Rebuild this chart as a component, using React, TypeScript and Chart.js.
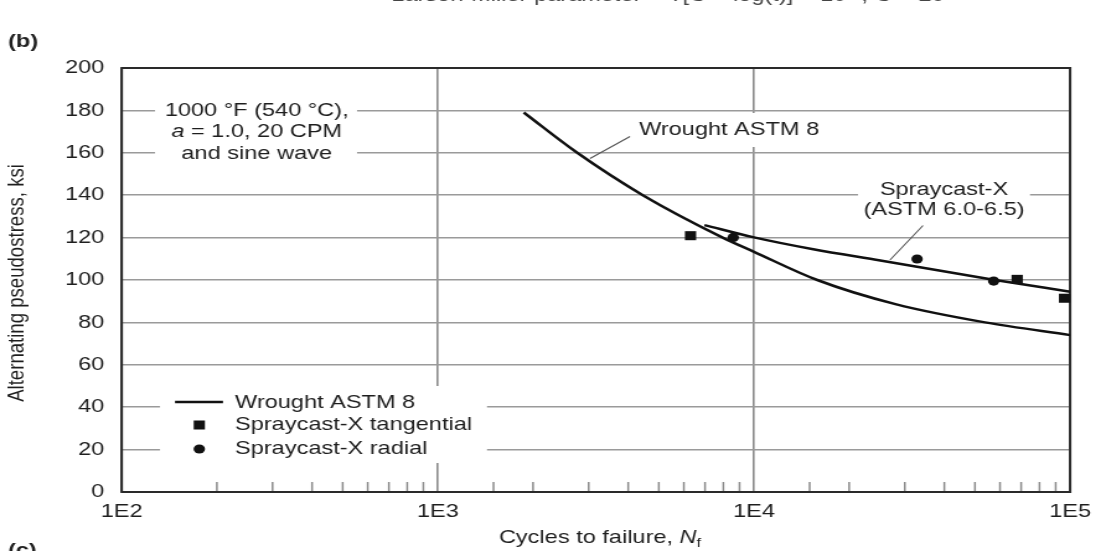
import { useEffect, useRef } from 'react';
import { Chart, registerables } from 'chart.js';

Chart.register(...registerables);

// ---- data ----
const wroughtCycles = [1870, 2760, 4450, 7960, 10000, 15850, 28200, 53800, 100000];
const wroughtStress = [179, 160, 140, 120, 113.3, 100, 88.5, 80, 74];
const sprayCycles = [6970, 10000, 15400, 25100, 57800, 100000];
const sprayStress = [125.9, 120.1, 114.5, 109.2, 100, 94.5];
const tangentialCycles = [6300, 68000, 96000];
const tangentialStress = [120.9, 100.3, 91.4];
const radialCycles = [8600, 32800, 57300];
const radialStress = [120.1, 109.9, 99.5];
const xDecades = [100, 1000, 10000, 100000];
const xTickLabels = ['1E2', '1E3', '1E4', '1E5'];
const yTicks = [0, 20, 40, 60, 80, 100, 120, 140, 160, 180, 200];
const legendLabels = ['Wrought ASTM 8', 'Spraycast-X tangential', 'Spraycast-X radial'];

// ---- layout ----
const PAGE_W = 1101;
const W = 888;
const H = 551;
const K = PAGE_W / W; // horizontal stretch of the reference
const px = (x: number) => x / K;
const FAM = "'Liberation Sans', Arial, Helvetica, sans-serif";
const INK = '#1e1e1e';

const isDecade = (v: number) => xDecades.some((d) => Math.abs(d - v) < 1e-6 * d);

function drawParts(ctx: CanvasRenderingContext2D, parts: [string, string, number?][], cx: number, y: number, align: 'center' | 'left') {
  let total = 0;
  for (const [s, f] of parts) { ctx.font = f; total += ctx.measureText(s).width; }
  let x = align === 'center' ? cx - total / 2 : cx;
  ctx.textAlign = 'left';
  ctx.textBaseline = 'middle';
  for (const [s, f, dy] of parts) {
    ctx.font = f;
    ctx.fillText(s, x, y + (dy || 0));
    x += ctx.measureText(s).width;
  }
}

const decorPlugin = {
  id: 'decor',
  beforeDatasetsDraw(chart: any) {
    const ctx: CanvasRenderingContext2D = chart.ctx;
    const a = chart.chartArea;
    const xs = chart.scales.x;
    ctx.save();
    // minor ticks along the bottom
    ctx.strokeStyle = '#8a8a8a';
    ctx.lineWidth = 1.5;
    for (const t of xs.ticks) {
      if (isDecade(t.value)) continue;
      const x = xs.getPixelForValue(t.value);
      ctx.beginPath();
      ctx.moveTo(x, a.bottom);
      ctx.lineTo(x, a.bottom - 10);
      ctx.stroke();
    }
    // white label backgrounds
    ctx.fillStyle = '#fff';
    ctx.fillRect(px(155), 94, px(357) - px(155), 74);
    ctx.fillRect(px(630), 113, px(828) - px(630), 34);
    ctx.fillRect(px(858), 176, px(1030) - px(858), 46);
    ctx.fillRect(px(160), 386, px(487) - px(160), 77);
    // frame
    ctx.strokeStyle = '#2a2a2a';
    ctx.lineWidth = 2;
    ctx.strokeRect(a.left, a.top, a.right - a.left, a.bottom - a.top);
    // leader lines
    ctx.strokeStyle = '#555';
    ctx.lineWidth = 1.1;
    ctx.beginPath();
    ctx.moveTo(px(590), 158.5);
    ctx.lineTo(px(630), 136.5);
    ctx.moveTo(px(890), 260);
    ctx.lineTo(px(923), 225.5);
    ctx.stroke();

    // texts
    ctx.fillStyle = INK;
    const f = `19px ${FAM}`;
    const fi = `italic 19px ${FAM}`;
    drawParts(ctx, [['1000 °F (540 °C),', f]], px(256.7), 110.5, 'center');
    drawParts(ctx, [['a', fi], [' = 1.0, 20 CPM', f]], px(256.7), 132, 'center');
    drawParts(ctx, [['and sine wave', f]], px(256.7), 153.5, 'center');
    drawParts(ctx, [['Wrought ASTM 8', f]], px(639), 130, 'left');
    drawParts(ctx, [['Spraycast-X', f]], px(944), 189.5, 'center');
    drawParts(ctx, [['(ASTM 6.0-6.5)', f]], px(944), 210, 'center');

    // legend
    ctx.strokeStyle = '#111';
    ctx.lineWidth = 2.5;
    ctx.beginPath();
    ctx.moveTo(px(175), 402);
    ctx.lineTo(px(223), 402);
    ctx.stroke();
    ctx.fillStyle = '#111';
    const s = 9;
    ctx.fillRect(px(199.3) - s / 2, 425 - s / 2, s, s);
    ctx.beginPath();
    ctx.arc(px(199.3), 449, 4.6, 0, Math.PI * 2);
    ctx.fill();
    ctx.fillStyle = INK;
    drawParts(ctx, [[legendLabels[0], f]], px(235), 402.5, 'left');
    drawParts(ctx, [[legendLabels[1], f]], px(235), 425, 'left');
    drawParts(ctx, [[legendLabels[2], f]], px(235), 449, 'left');
    ctx.restore();
  },
  afterDraw(chart: any) {
    const ctx: CanvasRenderingContext2D = chart.ctx;
    ctx.save();
    ctx.fillStyle = INK;
    // axis titles
    ctx.save();
    ctx.translate(px(17.5), 283);
    ctx.rotate(-Math.PI / 2);
    ctx.font = `18.6px ${FAM}`;
    ctx.textAlign = 'center';
    ctx.textBaseline = 'middle';
    ctx.fillText('Alternating pseudostress, ksi', 0, 0);
    ctx.restore();
    drawParts(
      ctx,
      [
        ['Cycles to failure, ', `19px ${FAM}`],
        ['N', `italic 19px ${FAM}`],
        ['f', `13px ${FAM}`, 5],
      ],
      px(600),
      538,
      'center'
    );
    // panel letters
    drawParts(ctx, [['(b)', `bold 19px ${FAM}`]], px(8), 42, 'left');
    drawParts(ctx, [['(c)', `bold 19px ${FAM}`]], px(8), 551, 'left');
    // clipped heading of the figure above
    ctx.font = `19px ${FAM}`;
    ctx.textAlign = 'center';
    ctx.textBaseline = 'alphabetic';
    ctx.fillStyle = '#444';
    ctx.fillText('Larson-Miller parameter = T[C + log(t)] × 10⁻³, C = 20', px(668), 1);
    ctx.restore();
  },
};

const toXY = (xs: number[], ys: number[]) => xs.map((x, i) => ({ x, y: ys[i] }));

export default function App() {
  const ref = useRef<HTMLCanvasElement>(null);
  useEffect(() => {
    document.body.style.margin = '0';
    const chart = new Chart(ref.current as HTMLCanvasElement, {
      type: 'scatter',
      data: {
        datasets: [
          {
            label: legendLabels[0],
            data: toXY(wroughtCycles, wroughtStress),
            showLine: true,
            borderColor: '#111',
            borderWidth: 2.5,
            pointRadius: 0,
            cubicInterpolationMode: 'monotone',
            fill: false,
          },
          {
            label: 'Spraycast-X (ASTM 6.0-6.5)',
            data: toXY(sprayCycles, sprayStress),
            showLine: true,
            borderColor: '#111',
            borderWidth: 2.5,
            pointRadius: 0,
            cubicInterpolationMode: 'monotone',
            fill: false,
          },
          {
            label: legendLabels[1],
            data: toXY(tangentialCycles, tangentialStress),
            pointStyle: 'rect',
            pointRadius: 6.4,
            backgroundColor: '#111',
            borderWidth: 0,
            clip: false,
          },
          {
            label: legendLabels[2],
            data: toXY(radialCycles, radialStress),
            pointStyle: 'circle',
            pointRadius: 4.6,
            backgroundColor: '#111',
            borderWidth: 0,
            clip: false,
          },
        ],
      } as any,
      options: {
        responsive: false,
        animation: false,
        devicePixelRatio: 1,
        events: [],
        layout: { padding: { top: 68, right: W - px(1071), left: 0, bottom: 0 } },
        plugins: { legend: { display: false }, tooltip: { enabled: false }, title: { display: false } },
        scales: {
          x: {
            type: 'logarithmic',
            min: xDecades[0],
            max: xDecades[xDecades.length - 1],
            afterFit: (s: any) => { s.height = H - 492; },
            ticks: {
              autoSkip: false,
              maxRotation: 0,
              minRotation: 0,
              padding: 8,
              color: INK,
              font: { family: FAM, size: 19 },
              callback: (v: any) => {
                const i = xDecades.findIndex((d) => Math.abs(d - Number(v)) < 1e-6 * d);
                return i >= 0 ? xTickLabels[i] : '';
              },
            },
            grid: {
              drawTicks: false,
              lineWidth: 1.6,
              color: (c: any) => (c.tick && isDecade(c.tick.value) ? '#8a8a8a' : 'rgba(0,0,0,0)'),
            },
            border: { display: false },
          },
          y: {
            min: yTicks[0],
            max: yTicks[yTicks.length - 1],
            afterFit: (s: any) => { s.width = px(121.7); },
            afterBuildTicks: (s: any) => { s.ticks = yTicks.map((v) => ({ value: v })); },
            ticks: {
              padding: 14,
              color: INK,
              font: { family: FAM, size: 19 },
            },
            grid: { drawTicks: false, lineWidth: 1.6, color: '#9a9a9a' },
            border: { display: false },
          },
        },
      } as any,
      plugins: [decorPlugin],
    });
    return () => chart.destroy();
  }, []);
  return (
    <canvas
      ref={ref}
      width={W}
      height={H}
      style={{ display: 'block', width: W, height: H, transform: `scaleX(${K})`, transformOrigin: '0 0' }}
    />
  );
}
